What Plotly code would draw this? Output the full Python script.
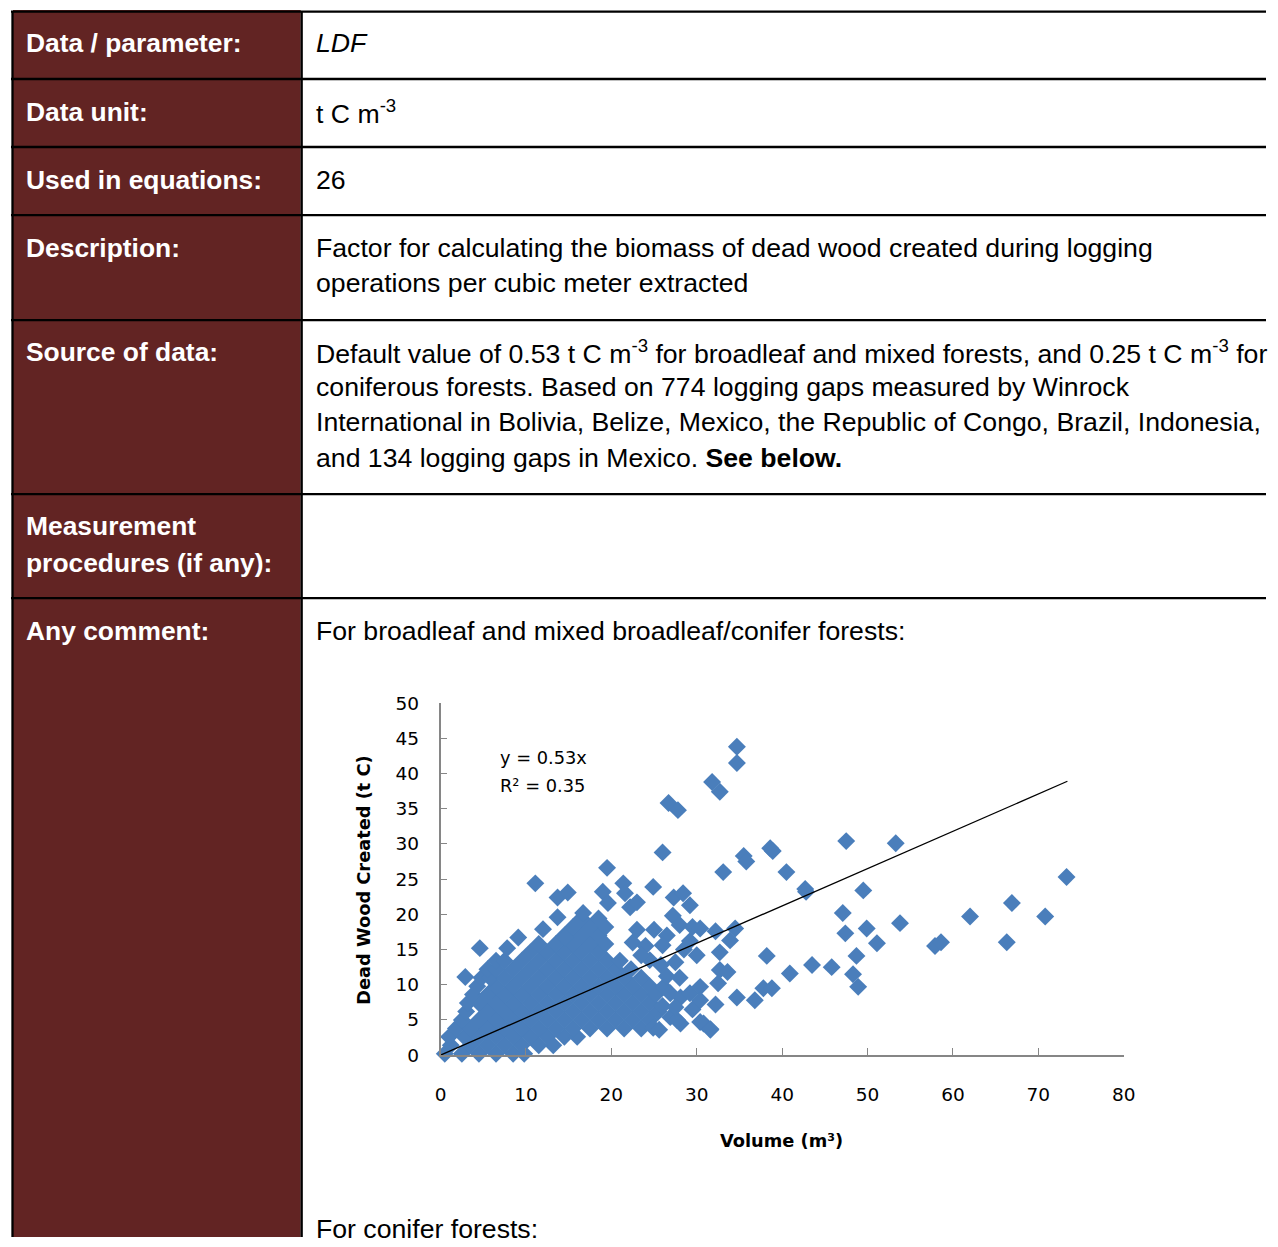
import plotly.graph_objects as go

W, H = 1278, 1247
# the photographed page sits inside a thin white frame and is scaled slightly;
# layout positions below are given in picture pixels and mapped onto the page
SX, BX = 0.987, 5.0
SY, BY = 0.983, 11.0

# ------------------------------------------------------------------ data
# dense cluster of logging gaps, read row by row (dead wood level -> volumes)
cluster_row_dw = [0.2, 1.4, 2.6, 3.8, 5.0, 6.2, 7.4, 8.6, 9.8, 11.0,
                  12.2, 13.4, 14.6, 15.8, 17.0, 18.2, 19.4]
cluster_row_vol = [
    [0.5, 2.5, 4.5, 6.5, 8.5, 9.8],
    [1.2, 3.5, 5.5, 7.5, 9.5, 11.5, 13.2],
    [1.0, 2.8, 4.5, 6.5, 8.5, 10.5, 12.5, 14.5, 16.0],
    [1.8, 3.5, 5.5, 7.5, 9.5, 11.5, 13.5, 15.5, 17.5, 19.5, 21.5, 23.5],
    [2.5, 4.5, 6.5, 8.5, 10.5, 12.5, 14.5, 16.5, 18.5, 20.5, 22.5, 24.5],
    [3.0, 5.5, 7.5, 9.5, 11.5, 13.5, 15.5, 17.5, 19.5, 21.5, 23.5, 25.5],
    [3.2, 4.5, 6.5, 8.5, 10.5, 12.5, 14.5, 16.5, 18.5, 20.5, 22.5, 24.5],
    [3.8, 5.5, 7.5, 9.5, 11.5, 13.5, 15.5, 17.5, 19.5, 21.5, 23.5, 25.2],
    [4.3, 6.5, 8.5, 10.5, 12.5, 14.5, 16.5, 18.5, 20.5, 22.5, 24.5],
    [4.8, 5.8, 7.5, 9.5, 11.5, 13.5, 15.5, 17.5, 19.5, 21.5, 23.5],
    [5.5, 6.5, 8.5, 10.5, 12.5, 14.5, 16.5, 18.5, 20.5, 22.3],
    [6.5, 7.5, 9.5, 11.5, 13.5, 15.5, 17.5, 19.5, 21.0],
    [10.5, 12.5, 14.5, 16.5, 18.5],
    [11.5, 13.5, 15.5, 17.5, 19.3],
    [14.5, 16.5, 18.5],
    [15.5, 17.5, 19.3],
    [16.5, 18.5],
]

# scattered gaps around the cluster edge
edge_vol = [2.9, 4.6, 7.8, 9.1, 12.0, 13.7, 14.6, 11.1, 13.7, 14.9,
            16.7, 19.5, 21.4, 21.6, 24.9, 19.0, 19.6, 22.2, 23.0, 26.0,
            27.3, 28.4, 29.2, 26.7, 27.8,
            23.0, 25.0, 26.5, 22.5, 24.0, 26.0, 27.2, 28.0, 29.5, 28.5,
            30.0, 29.2,
            26.1, 26.9, 28.1, 29.2, 30.4, 26.9, 28.1, 30.8, 31.6, 24.9,
            25.6, 27.7, 26.0, 27.5, 29.5, 26.5, 28.0, 25.8, 27.5, 24.5, 23.5]
edge_dw = [11.1, 15.2, 15.2, 16.7, 17.9, 19.6, 16.7, 24.4, 22.4, 23.1,
           20.2, 26.6, 24.4, 23.0, 23.9, 23.2, 21.6, 21.0, 21.7, 28.8,
           22.4, 23.0, 21.3, 35.8, 34.8,
           17.8, 17.8, 17.0, 16.0, 15.5, 15.6, 19.8, 18.5, 18.2, 15.0,
           14.2, 16.2,
           9.7, 8.8, 8.2, 8.8, 9.7, 5.4, 4.5, 4.5, 3.6, 3.9,
           3.6, 5.0, 7.0, 6.8, 6.5, 11.2, 11.0, 12.8, 13.2, 13.5, 14.2]

# isolated large gaps
outlier_vol = [30.4, 32.2, 34.5, 33.9, 32.7, 32.7, 33.6, 32.5, 30.4, 32.2,
               34.7, 36.8, 37.8, 38.8, 30.4, 31.6, 38.2, 40.9, 43.5, 45.8,
               48.3, 48.9, 48.7, 47.4, 49.9, 51.1, 47.1, 53.8, 57.9, 58.6,
               62.0, 66.3, 66.9, 70.8, 73.3, 49.5, 42.7, 42.8, 40.5, 33.1,
               35.5, 35.8, 38.6, 38.9, 47.5, 53.3, 31.8, 32.7, 34.7, 34.7]
outlier_dw = [18.0, 17.6, 18.0, 16.3, 14.6, 12.1, 11.8, 10.2, 7.8, 7.2,
              8.2, 7.8, 9.5, 9.5, 4.7, 3.7, 14.1, 11.6, 12.8, 12.5,
              11.5, 9.7, 14.1, 17.3, 18.0, 15.9, 20.2, 18.75, 15.5, 16.05,
              19.7, 16.05, 21.6, 19.7, 25.3, 23.4, 23.6, 23.2, 26.0, 26.0,
              28.3, 27.5, 29.4, 29.0, 30.4, 30.1, 38.8, 37.4, 43.8, 41.5]

trend_slope = 0.53
trend_vol = [0.0, 73.4]

x_ticks = [0, 10, 20, 30, 40, 50, 60, 70, 80]
y_ticks = [0, 5, 10, 15, 20, 25, 30, 35, 40, 45, 50]

# table content
row_labels = ["Data / parameter:", "Data unit:", "Used in equations:", "Description:",
              "Source of data:", "Measurement", "procedures (if any):", "Any comment:"]
row_label_y = [43, 112, 180, 248, 352, 526, 563, 631]
value_lines = [
    "<i>LDF</i>",
    "t C m<sup>-3</sup>",
    "26",
    "Factor for calculating the biomass of dead wood created during logging",
    "operations per cubic meter extracted",
    "Default value of 0.53 t C m<sup>-3</sup> for broadleaf and mixed forests, and 0.25 t C m<sup>-3</sup> for",
    "coniferous forests. Based on 774 logging gaps measured by Winrock",
    "International in Bolivia, Belize, Mexico, the Republic of Congo, Brazil, Indonesia,",
    "and 134 logging gaps in Mexico. <b>See below.</b>",
    "For broadleaf and mixed broadleaf/conifer forests:",
    "For conifer forests:",
]
value_y = [43, 112, 180, 248, 283, 352, 387, 422, 458, 631, 1229]
row_lines_y = [10, 79, 147, 215, 320, 494, 598]

# ------------------------------------------------------------------ build
vol, dw = [], []
for yv, xs in zip(cluster_row_dw, cluster_row_vol):
    for xv in xs:
        vol.append(xv)
        dw.append(yv)
vol += edge_vol + outlier_vol
dw += edge_dw + outlier_dw


def fx(p):
    return ((p - BX) / SX) / W


def fy(p):
    return 1 - ((p - BY) / SY) / H


BLUE = "#4A7EBB"
MAROON = "#622423"
AXIS_GREY = "#868686"
TXT = "Liberation Sans, Arial, sans-serif"
CHART_FONT = "DejaVu Sans, sans-serif"
LS = 26.4    # label column text size
TS = 26.65   # value column text size
CS = 17.8    # chart text size

fig = go.Figure()
fig.add_trace(go.Scatter(
    x=vol, y=dw, mode="markers", cliponaxis=False,
    marker=dict(symbol="diamond", size=13.8, color=BLUE, line=dict(width=0)),
    showlegend=False, hoverinfo="skip"))
fig.add_trace(go.Scatter(
    x=trend_vol, y=[trend_slope * v for v in trend_vol], mode="lines",
    line=dict(color="#000000", width=1.3), showlegend=False, hoverinfo="skip"))

shapes = []
shapes.append(dict(type="rect", xref="paper", yref="paper",
                   x0=fx(12), x1=fx(300), y0=0, y1=fy(10),
                   fillcolor=MAROON, line=dict(width=0), layer="below"))
for ly in row_lines_y:
    shapes.append(dict(type="line", xref="paper", yref="paper",
                       x0=fx(10), x1=1, y0=min(fy(ly), 0.9995), y1=min(fy(ly), 0.9995),
                       line=dict(color="#000000", width=2.3)))
for lx in [11.5, 301]:
    shapes.append(dict(type="line", xref="paper", yref="paper",
                       x0=fx(lx), x1=fx(lx), y0=1, y1=0,
                       line=dict(color="#000000", width=2.3)))

ann = []
for t, yy in zip(row_labels, row_label_y):
    ann.append(dict(text="<b>%s</b>" % t, x=fx(23), y=fy(yy), xref="paper", yref="paper",
                    xanchor="left", yanchor="middle", showarrow=False,
                    font=dict(family=TXT, size=LS, color="#FFFFFF")))
for t, yy in zip(value_lines, value_y):
    ann.append(dict(text=t, x=fx(313), y=fy(yy), xref="paper", yref="paper",
                    xanchor="left", yanchor="middle", showarrow=False,
                    font=dict(family=TXT, size=TS, color="#000000")))

ann.append(dict(text="y = 0.53x", x=fx(498), y=fy(757), xref="paper", yref="paper",
                xanchor="left", yanchor="middle", showarrow=False,
                font=dict(family=CHART_FONT, size=CS, color="#000000")))
ann.append(dict(text="R² = 0.35", x=fx(498), y=fy(785), xref="paper", yref="paper",
                xanchor="left", yanchor="middle", showarrow=False,
                font=dict(family=CHART_FONT, size=CS, color="#000000")))
ann.append(dict(text="<b>Volume (m³)</b>", x=fx(781), y=fy(1140), xref="paper", yref="paper",
                xanchor="center", yanchor="middle", showarrow=False,
                font=dict(family=CHART_FONT, size=CS, color="#000000")))
ann.append(dict(text="<b>Dead Wood Created (t C)</b>", x=fx(363), y=fy(880), xref="paper", yref="paper",
                xanchor="center", yanchor="middle", showarrow=False, textangle=-90,
                font=dict(family=CHART_FONT, size=CS, color="#000000")))

fig.update_layout(
    width=W, height=H, autosize=False,
    margin=dict(l=0, r=0, t=0, b=0, pad=0),
    paper_bgcolor="#FFFFFF", plot_bgcolor="rgba(0,0,0,0)",
    shapes=shapes, annotations=ann, showlegend=False,
    xaxis=dict(domain=[fx(440), fx(1124)], range=[0, 80], tickvals=x_ticks,
               showgrid=False, zeroline=False, showline=True, linecolor=AXIS_GREY, linewidth=1.5,
               ticks="inside", ticklen=7, tickcolor=AXIS_GREY, tickwidth=1.2,
               ticklabelstandoff=22,
               tickfont=dict(family=CHART_FONT, size=18.5, color="#000000"), fixedrange=True),
    yaxis=dict(domain=[fy(1055), fy(703)], range=[0, 50], tickvals=y_ticks,
               showgrid=False, zeroline=False, showline=True, linecolor=AXIS_GREY, linewidth=1.5,
               ticks="inside", ticklen=7, tickcolor=AXIS_GREY, tickwidth=1.2,
               ticklabelstandoff=16,
               tickfont=dict(family=CHART_FONT, size=18.5, color="#000000"), fixedrange=True),
)

fig.write_html("out.html", config={"displayModeBar": False},
               post_script="document.body.style.margin='0';document.body.style.overflow='hidden';")
